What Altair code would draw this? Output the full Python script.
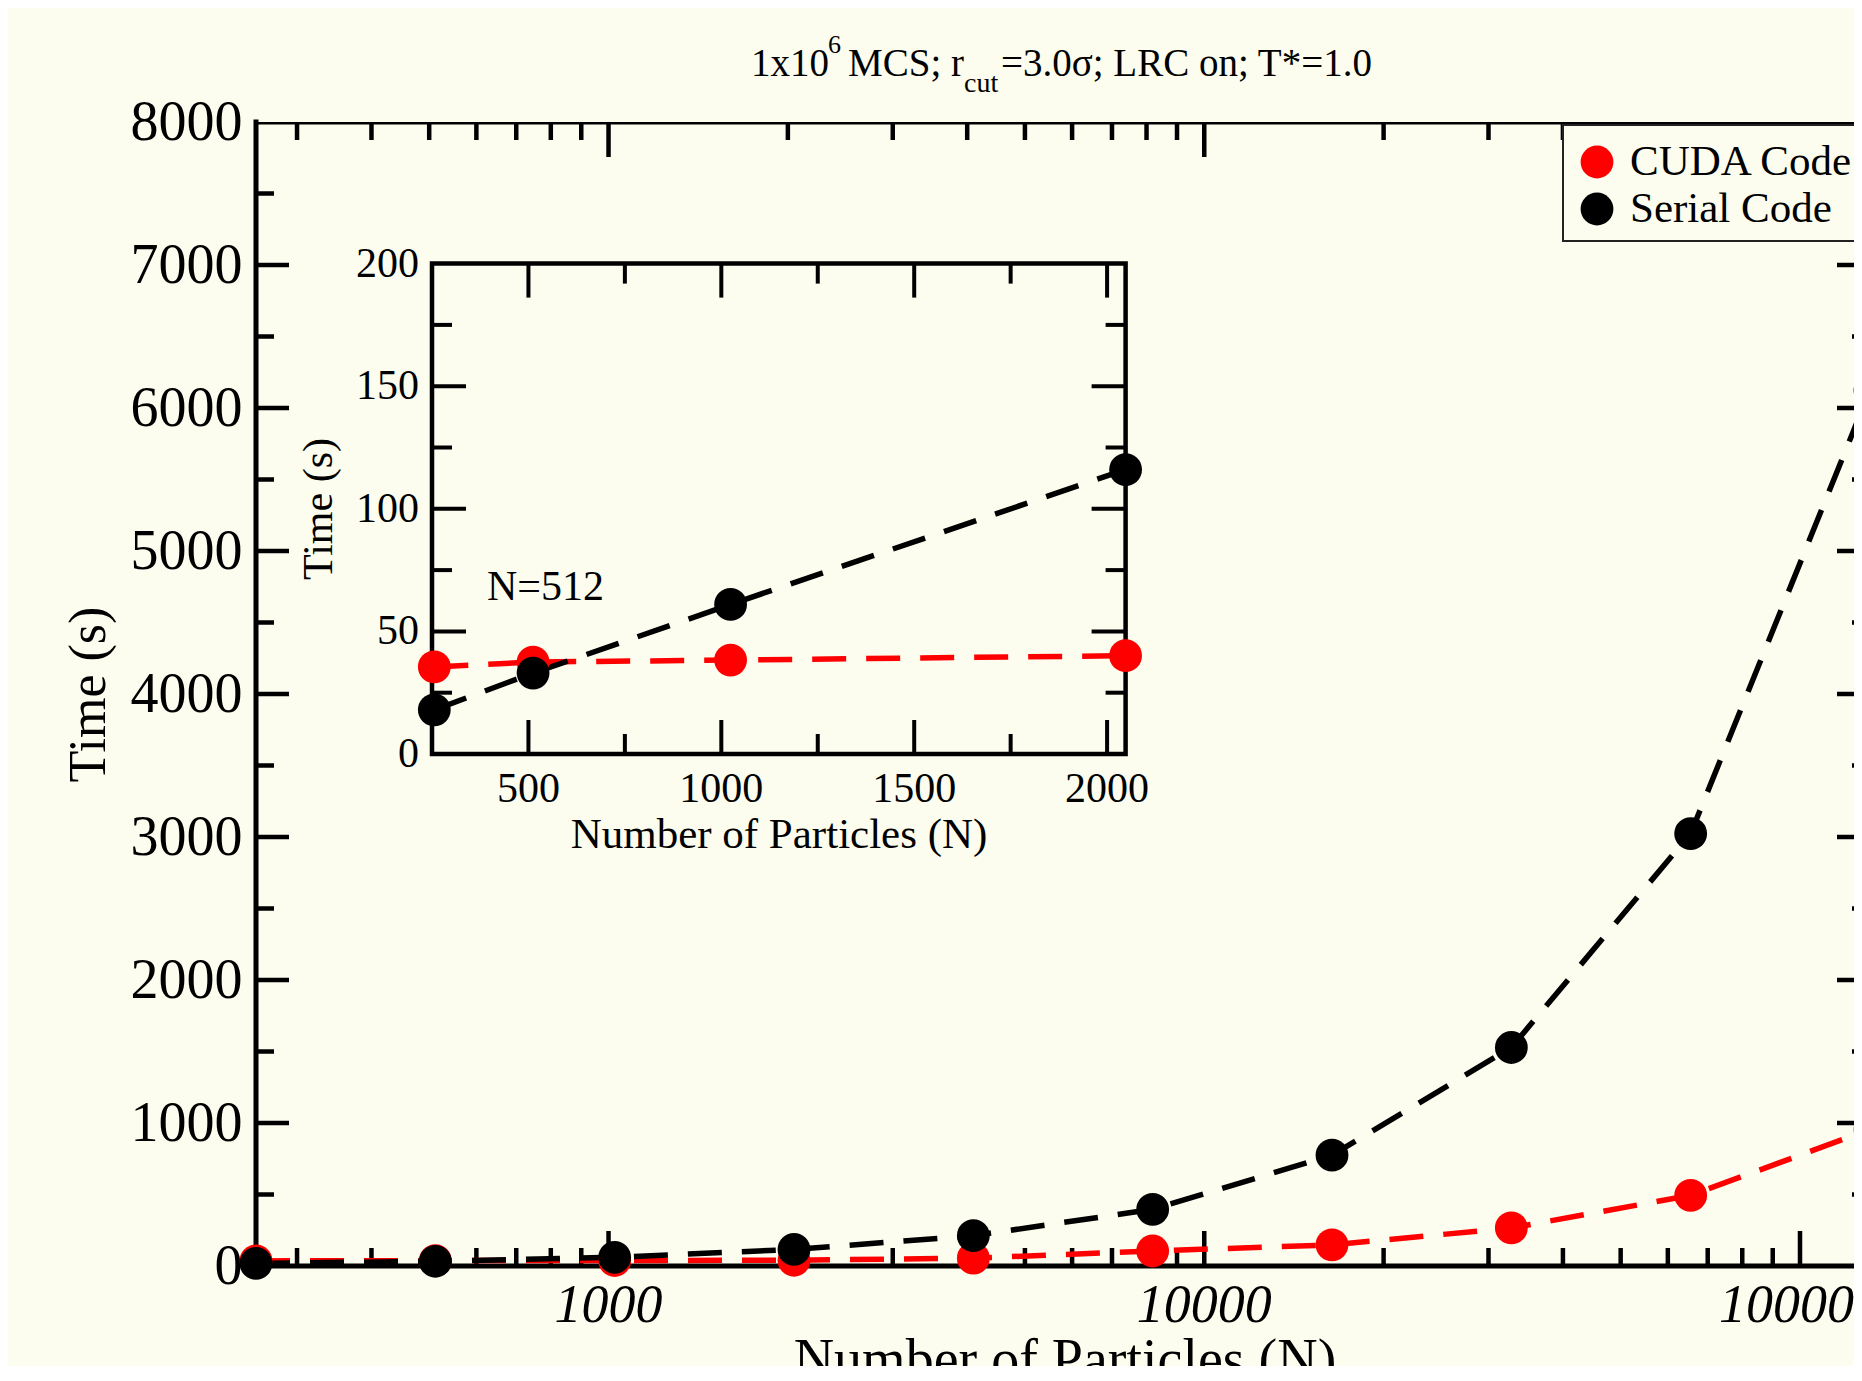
import altair as alt
import pandas as pd

# ---------------- data ----------------
N = [256, 512, 1024, 2048, 4096, 8192, 16384, 32768, 65536, 131072]
cuda_time = [35.5, 37.5, 38.3, 40.1, 55, 105, 148, 266, 494, 955]
serial_time = [18, 33, 61, 116, 212, 396, 775, 1528, 3024, 6125]
series = ["CUDA Code", "Serial Code"]
series_colors = ["#ff0000", "#000000"]

main_x_domain = [256, 131072]
main_y_domain = [0, 8000]
main_x_labels = [1000, 10000, 100000]
main_y_labels = [0, 1000, 2000, 3000, 4000, 5000, 6000, 7000, 8000]
main_x_major = [1000, 10000, 100000]
main_x_minor = [300, 400, 500, 600, 700, 800, 900,
                2000, 3000, 4000, 5000, 6000, 7000, 8000, 9000,
                20000, 30000, 40000, 50000, 60000, 70000, 80000, 90000]
main_y_major = [1000, 2000, 3000, 4000, 5000, 6000, 7000]
main_y_minor = [500, 1500, 2500, 3500, 4500, 5500, 6500, 7500]

inset_max_n = 2048
inset_x_domain = [250, 2048]
inset_y_domain = [0, 200]
inset_x_labels = [500, 1000, 1500, 2000]
inset_y_labels = [0, 50, 100, 150, 200]
inset_x_major = [500, 1000, 1500, 2000]
inset_x_minor = [750, 1250, 1750]
inset_y_major = [50, 100, 150]
inset_y_minor = [25, 75, 125, 175]

title_parts = ["1x10", "6", "MCS; r", "cut", "=3.0\u03c3; LRC on; T*=1.0"]
main_x_title = "Number of Particles (N)"
main_y_title = "Time (s)"
inset_x_title = "Number of Particles (N)"
inset_y_title = "Time (s)"
inset_note = "N=512"

# ---------------- layout / style ----------------
SERIF = "Liberation Serif"
BG = "#fcfdef"
OX = 20               # frame's left edge inside the drawing group
W_FULL = 1614         # frame width (its right side lies past the page edge)
H = 1144              # frame height
GW = 1618             # drawing group width (ends at the right edge of the picture)
GH = 1244             # drawing group height (down to the bottom of the picture)
INS_X_RANGE = [176 + OX, 869.6 + OX]
INS_Y_RANGE = [632, 141.6]
MARK_SIZE = 1075
DASH = [34, 20]
LEG_X, LEG_Y, LEG_H = 1327, 3, 116
LEG_ROWS = [40, 87]
TX = OX - 3           # title anchor

df = pd.DataFrame({
    "code": [series[0]] * len(N) + [series[1]] * len(N),
    "N": N + N,
    "time": cuda_time + serial_time,
})

xs = alt.Scale(type="log", domain=main_x_domain, range=[OX, OX + W_FULL], nice=False)
ys = alt.Scale(domain=main_y_domain, range=[H, 0], nice=False, zero=False)
cs = alt.Scale(domain=series, range=series_colors)
ixs = alt.Scale(domain=inset_x_domain, range=INS_X_RANGE, nice=False, zero=False)
iys = alt.Scale(domain=inset_y_domain, range=INS_Y_RANGE, nice=False, zero=False)
legs = alt.Scale(type="point", domain=series, range=LEG_ROWS, padding=0)

y_axis = alt.Axis(orient="left", offset=-OX, values=main_y_labels, format="d",
                  title=main_y_title, labelFont=SERIF, labelFontSize=56,
                  labelColor="black", labelPadding=14, ticks=False, tickSize=0,
                  domain=False, grid=False, labelOverlap=False,
                  titleFont=SERIF, titleFontSize=52, titleFontWeight="normal",
                  titleColor="black", titlePadding=15)

layers = []
one = pd.DataFrame({"k": [0]})

# ---------------- main plot frame ----------------
FRAME_W = 5
layers += [
    alt.Chart(one).mark_rule(strokeWidth=FRAME_W, color="black").encode(
        x=alt.value(OX), y=alt.value(-FRAME_W / 2), y2=alt.value(H + FRAME_W / 2)),
    alt.Chart(one).mark_rule(strokeWidth=FRAME_W, color="black", clip=True).encode(
        y=alt.value(0), x=alt.value(OX), x2=alt.value(OX + W_FULL)),
    alt.Chart(one).mark_rule(strokeWidth=FRAME_W, color="black", clip=True).encode(
        y=alt.value(H), x=alt.value(OX), x2=alt.value(OX + W_FULL)),
    alt.Chart(one).mark_rule(strokeWidth=FRAME_W, color="black", clip=True).encode(
        x=alt.value(OX + W_FULL), y=alt.value(0), y2=alt.value(H)),
]


def main_yticks(vals, length):
    d = pd.DataFrame({"v": vals})
    left = alt.Chart(d).mark_rule(strokeWidth=4.5, color="black").encode(
        y=alt.Y("v:Q", scale=ys, axis=None), x=alt.value(OX), x2=alt.value(OX + length))
    right = alt.Chart(d).mark_rule(strokeWidth=4.5, color="black", clip=True).encode(
        y=alt.Y("v:Q", scale=ys, axis=None), x=alt.value(OX + W_FULL - length),
        x2=alt.value(OX + W_FULL))
    return [left, right]


def main_xticks(vals, length):
    d = pd.DataFrame({"v": vals})
    bottom = alt.Chart(d).mark_rule(strokeWidth=4.5, color="black").encode(
        x=alt.X("v:Q", scale=xs, axis=None), y=alt.value(H), y2=alt.value(H - length))
    top = alt.Chart(d).mark_rule(strokeWidth=4.5, color="black").encode(
        x=alt.X("v:Q", scale=xs, axis=None), y=alt.value(0), y2=alt.value(length))
    return [bottom, top]


layers += main_yticks(main_y_major, 33) + main_yticks(main_y_minor, 18)
layers += main_xticks(main_x_major, 35) + main_xticks(main_x_minor, 18)

# x tick labels (the last one is cut by the edge, as in the original)
layers.append(alt.Chart(pd.DataFrame({"v": main_x_labels})).mark_text(
    align="center", baseline="top", font=SERIF, fontSize=54, fontStyle="italic",
    color="black", clip=True).encode(
    x=alt.X("v:Q", scale=xs, axis=None), y=alt.value(H + 13),
    text=alt.Text("v:Q", format="d")))

# ---------------- legend (box continues past the edge) ----------------
layers.append(alt.Chart(one).mark_rect(fill=BG, stroke="#222222", strokeWidth=2,
                                       clip=True).encode(
    x=alt.value(LEG_X), x2=alt.value(LEG_X + 340),
    y=alt.value(LEG_Y), y2=alt.value(LEG_Y + LEG_H)))
leg_df = pd.DataFrame({"code": series})
layers.append(alt.Chart(leg_df).mark_circle(size=MARK_SIZE, opacity=1).encode(
    x=alt.value(LEG_X + 34), y=alt.Y("code:N", scale=legs, axis=None),
    color=alt.Color("code:N", scale=cs, legend=None)))
layers.append(alt.Chart(leg_df).mark_text(
    align="left", baseline="middle", font=SERIF, fontSize=43, color="black",
    clip=True).encode(
    x=alt.value(LEG_X + 67), y=alt.Y("code:N", scale=legs, axis=None), text="code:N"))

# ---------------- data marks ----------------
main_lines = alt.Chart(df).mark_line(strokeWidth=5.5, strokeDash=DASH, clip=True).encode(
    x=alt.X("N:Q", scale=xs, axis=None),
    y=alt.Y("time:Q", scale=ys, axis=y_axis),
    color=alt.Color("code:N", scale=cs, legend=None),
)
main_points = alt.Chart(df).mark_circle(size=MARK_SIZE, opacity=1, clip=True).encode(
    x=alt.X("N:Q", scale=xs, axis=None),
    y=alt.Y("time:Q", scale=ys, axis=None),
    color=alt.Color("code:N", scale=cs, legend=None),
)
layers += [main_lines, main_points]

# ---------------- inset ----------------
ix0 = alt.XDatum(inset_x_domain[0], type="quantitative", scale=ixs, axis=None)
ix1 = alt.XDatum(inset_x_domain[1], type="quantitative", scale=ixs, axis=None)
iy0 = alt.YDatum(inset_y_domain[0], type="quantitative", scale=iys, axis=None)
iy1 = alt.YDatum(inset_y_domain[1], type="quantitative", scale=iys, axis=None)

layers.append(alt.Chart(one).mark_rect(fill=BG, stroke="black", strokeWidth=4.5).encode(
    x=ix0, x2=alt.X2Datum(inset_x_domain[1]), y=iy0, y2=alt.Y2Datum(inset_y_domain[1])))


def inset_yticks(vals, length):
    d = pd.DataFrame({"v": vals})
    left = alt.Chart(d).mark_rule(strokeWidth=4, color="black", x2Offset=length).encode(
        y=alt.Y("v:Q", scale=iys, axis=None), x=ix0, x2=alt.X2Datum(inset_x_domain[0]))
    right = alt.Chart(d).mark_rule(strokeWidth=4, color="black", x2Offset=-length).encode(
        y=alt.Y("v:Q", scale=iys, axis=None), x=ix1, x2=alt.X2Datum(inset_x_domain[1]))
    return [left, right]


def inset_xticks(vals, length):
    d = pd.DataFrame({"v": vals})
    bottom = alt.Chart(d).mark_rule(strokeWidth=4, color="black", y2Offset=-length).encode(
        x=alt.X("v:Q", scale=ixs, axis=None), y=iy0, y2=alt.Y2Datum(inset_y_domain[0]))
    top = alt.Chart(d).mark_rule(strokeWidth=4, color="black", y2Offset=length).encode(
        x=alt.X("v:Q", scale=ixs, axis=None), y=iy1, y2=alt.Y2Datum(inset_y_domain[1]))
    return [bottom, top]


layers += inset_yticks(inset_y_major, 34) + inset_yticks(inset_y_minor, 20)
layers += inset_xticks(inset_x_major, 34) + inset_xticks(inset_x_minor, 20)

layers.append(alt.Chart(df).transform_filter(alt.datum.N <= inset_max_n).mark_line(
    strokeWidth=5.5, strokeDash=DASH).encode(
    x=alt.X("N:Q", scale=ixs, axis=None),
    y=alt.Y("time:Q", scale=iys, axis=None),
    color=alt.Color("code:N", scale=cs, legend=None)))
layers.append(alt.Chart(df).transform_filter(alt.datum.N <= inset_max_n).mark_circle(
    size=MARK_SIZE, opacity=1).encode(
    x=alt.X("N:Q", scale=ixs, axis=None),
    y=alt.Y("time:Q", scale=iys, axis=None),
    color=alt.Color("code:N", scale=cs, legend=None)))

layers.append(alt.Chart(pd.DataFrame({"v": inset_y_labels})).mark_text(
    align="right", baseline="middle", dx=-13, font=SERIF, fontSize=42, color="black").encode(
    y=alt.Y("v:Q", scale=iys, axis=None), x=ix0, text=alt.Text("v:Q", format="d")))
layers.append(alt.Chart(pd.DataFrame({"v": inset_x_labels})).mark_text(
    align="center", baseline="top", dy=15, font=SERIF, fontSize=42, color="black").encode(
    x=alt.X("v:Q", scale=ixs, axis=None), y=iy0, text=alt.Text("v:Q", format="d")))


# ---------------- free text ----------------
def text_at(s, x, y, size, **kw):
    return alt.Chart(pd.DataFrame({"t": [s]})).mark_text(
        font=SERIF, fontSize=size, color="black", **kw).encode(
        x=alt.value(x), y=alt.value(y), text="t:N")


layers += [
    text_at(title_parts[0], TX + 498, -46, 39, align="left", baseline="alphabetic"),
    text_at(title_parts[1], TX + 575, -69, 26, align="left", baseline="alphabetic"),
    text_at(title_parts[2], TX + 595, -46, 39, align="left", baseline="alphabetic"),
    text_at(title_parts[3], TX + 711, -30, 28, align="left", baseline="alphabetic"),
    text_at(title_parts[4], TX + 748, -46, 39, align="left", baseline="alphabetic"),
    text_at(main_x_title, 829, 1256, 56, align="center", baseline="alphabetic", clip=True),
    text_at(inset_y_title, OX + 63, 387, 42, align="center", baseline="middle", angle=270),
    text_at(inset_x_title, OX + 523, 713, 43, align="center", baseline="middle"),
    text_at(inset_note, OX + 231, 478, 42, align="left", baseline="alphabetic"),
]

chart = alt.layer(*layers).resolve_scale(
    x="independent", y="independent"
).properties(
    width=GW, height=GH,
    autosize=alt.AutoSizeParams(type="none"),
    padding={"left": 228, "top": 114, "right": 0, "bottom": 0},
    background=BG,
).configure_view(strokeWidth=0)

chart.save("out.html", embed_options={"renderer": "svg", "actions": False})
